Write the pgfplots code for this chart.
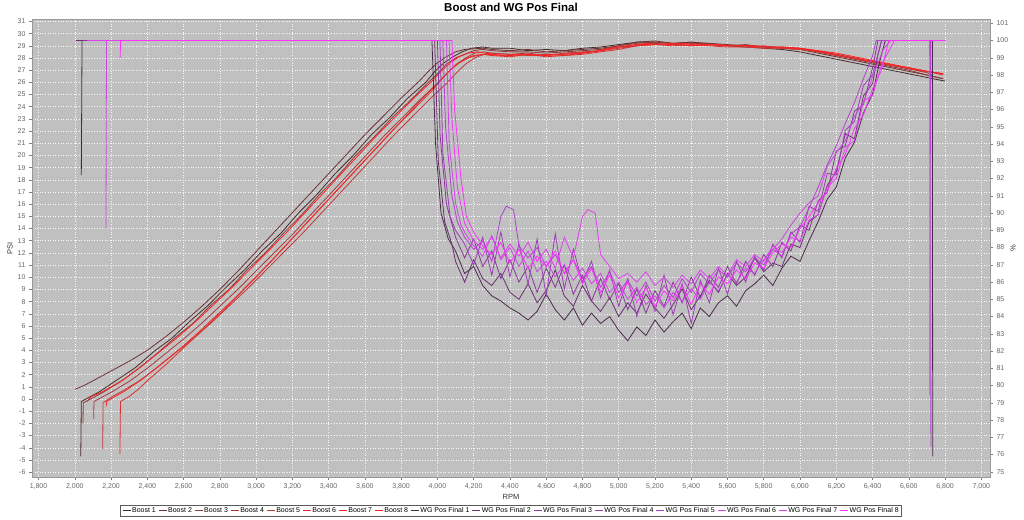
\documentclass[border=0pt]{standalone}
\usepackage{fontspec}
\setmainfont{Liberation Sans}
\usepackage{pgfplots}
\pgfplotsset{compat=1.18}

\definecolor{bggray}{HTML}{C0C0C0}
\definecolor{tickgray}{HTML}{666666}
\definecolor{b1}{HTML}{4A2A2A}
\definecolor{b2}{HTML}{6E3232}
\definecolor{b3}{HTML}{8C3A3A}
\definecolor{b4}{HTML}{A83A3A}
\definecolor{b5}{HTML}{C43838}
\definecolor{b6}{HTML}{DC3030}
\definecolor{b7}{HTML}{EE2A2A}
\definecolor{b8}{HTML}{FF2020}
\definecolor{w1}{HTML}{4A2A4A}
\definecolor{w2}{HTML}{6A3070}
\definecolor{w3}{HTML}{883898}
\definecolor{w4}{HTML}{9E3CB8}
\definecolor{w5}{HTML}{B440D0}
\definecolor{w6}{HTML}{C848E0}
\definecolor{w7}{HTML}{E040F0}
\definecolor{w8}{HTML}{FF30FF}

\pgfplotsset{
  common/.style={
    scale only axis, width=958pt, height=458pt,
    at={(32pt,42pt)}, anchor=south west,
    xmin=1764, xmax=7048,
    tick label style={font=\fontsize{7}{8}\selectfont, text=tickgray},
    /pgf/number format/assume math mode=true,
    tick align=outside, major tick length=3pt,
    tick style={gray, line width=0.5pt},
    axis line style={gray!80},
    every axis plot/.append style={line width=0.8pt, mark=none},
    legend image code/.code={\draw[##1] (0pt,0pt) -- (8pt,0pt);},
  },
}

\begin{document}
\begin{tikzpicture}[x=1pt,y=1pt]
\useasboundingbox (0,0) rectangle (1024,519);

% ---------- boost (left axis)
\begin{axis}[common,
  ymin=-6.4, ymax=31.2, ytick={-6,-5,...,31},
  xtick={1800,2000,...,7000}, scaled x ticks=false,
  xticklabel style={/pgf/number format/1000 sep={,}},
  ytick pos=left, xtick pos=bottom,
  axis background/.style={fill=bggray},
  grid=major, grid style={white!90!bggray, dash pattern=on 0.8pt off 1.8pt, line width=0.5pt},
  xlabel={RPM}, ylabel={PSI},
  label style={font=\fontsize{7.5}{9}\selectfont, text=black!80},
  ylabel style={at={(axis description cs:-0.023,0.5)}, anchor=center},
  xlabel style={at={(axis description cs:0.5,-0.0437)}, anchor=center},
  title={Boost and WG Pos Final},
  every axis title shift=0pt,
  title style={font=\bfseries\fontsize{11.5}{13}\selectfont, at={(axis description cs:0.5,1.0251)}, anchor=center, yshift=0pt},
]
\addplot[color=b1] coordinates {(2033,-4.7)(2036,-0.2)(2086,0.2)(2136,0.6)(2236,1.6)(2336,2.6)(2436,3.9)(2536,5.0)(2636,6.4)(2736,7.7)(2836,9.2)(2936,10.6)(3036,12.2)(3136,13.6)(3236,15.3)(3336,16.8)(3436,18.5)(3536,20.0)(3636,21.7)(3736,23.1)(3836,24.7)(3936,26.0)(3986,26.9)(4036,27.6)(4086,28.1)(4136,28.5)(4186,28.8)(4250,28.9)(4300,28.8)(4400,28.8)(4500,28.6)(4600,28.7)(4700,28.6)(4800,28.8)(4900,28.9)(5000,29.1)(5100,29.3)(5200,29.3)(5300,29.2)(5400,29.3)(5500,29.1)(5600,29.0)(5700,28.9)(5800,28.8)(5900,28.7)(6000,28.5)(6100,28.2)(6200,27.9)(6300,27.6)(6400,27.3)(6500,27.0)(6600,26.7)(6700,26.4)(6800,26.1)};
\addplot[color=b2] coordinates {(2000,0.8)(2050,1.1)(2100,1.5)(2200,2.3)(2300,3.1)(2400,4.0)(2500,5.1)(2600,6.3)(2700,7.6)(2800,9.0)(2900,10.5)(3000,12.1)(3100,13.7)(3200,15.3)(3300,16.9)(3400,18.5)(3500,20.1)(3600,21.7)(3700,23.2)(3800,24.7)(3900,26.1)(3950,26.9)(4000,27.6)(4050,28.1)(4100,28.5)(4150,28.7)(4250,28.8)(4300,28.7)(4400,28.6)(4500,28.7)(4600,28.5)(4700,28.6)(4800,28.7)(4900,28.8)(5000,29.0)(5100,29.3)(5200,29.4)(5300,29.2)(5400,29.3)(5500,29.2)(5600,29.1)(5700,29.0)(5800,28.9)(5900,28.8)(6000,28.7)(6100,28.4)(6200,28.1)(6300,27.8)(6400,27.5)(6500,27.2)(6600,26.9)(6700,26.6)(6790,26.3)};
\addplot[color=b3] coordinates {(2045,-2.0)(2047,-0.3)(2100,0.1)(2150,0.5)(2250,1.4)(2350,2.5)(2450,3.7)(2550,5.0)(2650,6.2)(2750,7.7)(2850,9.0)(2950,10.6)(3050,12.0)(3150,13.6)(3250,15.1)(3350,16.8)(3450,18.3)(3550,20.0)(3650,21.5)(3750,23.1)(3850,24.5)(3950,26.0)(4000,26.7)(4050,27.5)(4100,28.0)(4150,28.3)(4200,28.6)(4250,28.7)(4300,28.6)(4400,28.5)(4500,28.5)(4600,28.4)(4700,28.5)(4800,28.6)(4900,28.7)(5000,29.0)(5100,29.2)(5200,29.3)(5300,29.2)(5400,29.2)(5500,29.2)(5600,29.0)(5700,29.1)(5800,28.9)(5900,28.9)(6000,28.8)(6100,28.5)(6200,28.2)(6300,27.9)(6400,27.6)(6500,27.3)(6600,27.0)(6700,26.6)(6790,26.3)};
\addplot[color=b4] coordinates {(2104,-1.6)(2106,-0.2)(2156,0.2)(2206,0.6)(2306,1.5)(2406,2.6)(2506,3.8)(2606,5.0)(2706,6.3)(2806,7.7)(2906,9.1)(3006,10.6)(3106,12.1)(3206,13.6)(3306,15.2)(3406,16.8)(3506,18.4)(3606,20.0)(3706,21.6)(3806,23.1)(3906,24.6)(4006,26.0)(4056,26.8)(4106,27.5)(4156,28.0)(4206,28.4)(4256,28.5)(4300,28.4)(4400,28.3)(4500,28.4)(4600,28.2)(4700,28.4)(4800,28.5)(4900,28.6)(5000,28.9)(5100,29.0)(5200,29.2)(5300,29.1)(5400,29.2)(5500,29.1)(5600,29.0)(5700,29.0)(5800,28.9)(5900,28.8)(6000,28.8)(6100,28.5)(6200,28.3)(6300,28.0)(6400,27.7)(6500,27.4)(6600,27.1)(6700,26.8)(6730,26.6)(6732,24.8)};
\addplot[color=b5] coordinates {(2154,-4.1)(2156,-0.3)(2206,0.2)(2256,0.6)(2356,1.5)(2456,2.6)(2556,3.8)(2656,5.0)(2756,6.3)(2856,7.7)(2956,9.1)(3056,10.6)(3156,12.1)(3256,13.6)(3356,15.2)(3456,16.8)(3556,18.4)(3656,20.0)(3756,21.6)(3856,23.1)(3956,24.6)(4056,26.0)(4106,26.8)(4156,27.5)(4206,28.0)(4256,28.3)(4306,28.4)(4400,28.3)(4500,28.2)(4600,28.3)(4700,28.2)(4800,28.4)(4900,28.6)(5000,28.8)(5100,29.0)(5200,29.1)(5300,29.1)(5400,29.0)(5500,29.1)(5600,29.0)(5700,28.9)(5800,29.0)(5900,28.8)(6000,28.7)(6100,28.6)(6200,28.3)(6300,28.0)(6400,27.7)(6500,27.4)(6600,27.2)(6700,26.9)(6790,26.7)};
\addplot[color=b6] coordinates {(2249,-4.5)(2252,-0.2)(2300,0.2)(2350,0.8)(2400,1.5)(2500,2.8)(2600,4.2)(2700,5.6)(2800,7.0)(2900,8.5)(3000,10.0)(3100,11.6)(3200,13.2)(3300,14.8)(3400,16.4)(3500,18.0)(3600,19.6)(3700,21.2)(3800,22.8)(3900,24.4)(4000,25.9)(4050,26.7)(4100,27.4)(4150,27.9)(4200,28.2)(4250,28.3)(4300,28.2)(4400,28.1)(4500,28.3)(4600,28.1)(4700,28.2)(4800,28.3)(4900,28.5)(5000,28.7)(5100,29.0)(5200,29.1)(5300,29.0)(5400,29.1)(5500,29.0)(5600,28.9)(5700,28.9)(5800,28.8)(5900,28.8)(6000,28.7)(6100,28.5)(6200,28.2)(6300,28.0)(6400,27.7)(6500,27.4)(6600,27.2)(6700,26.9)(6790,26.6)};
\addplot[color=b7] coordinates {(2173,-0.6)(2176,-0.2)(2220,0.2)(2270,0.6)(2370,1.6)(2470,2.8)(2570,4.0)(2670,5.3)(2770,6.7)(2870,8.1)(2970,9.6)(3070,11.1)(3170,12.7)(3270,14.3)(3370,15.9)(3470,17.5)(3570,19.1)(3670,20.7)(3770,22.3)(3870,23.8)(3970,25.3)(4020,26.2)(4070,27.0)(4120,27.6)(4170,28.0)(4220,28.2)(4270,28.3)(4350,28.2)(4450,28.3)(4550,28.2)(4650,28.3)(4750,28.4)(4850,28.5)(4950,28.8)(5050,29.0)(5150,29.2)(5250,29.1)(5350,29.2)(5450,29.1)(5550,29.1)(5650,29.0)(5750,29.0)(5850,28.9)(5950,28.8)(6050,28.7)(6150,28.4)(6250,28.1)(6350,27.8)(6450,27.6)(6550,27.3)(6650,27.0)(6750,26.8)(6790,26.7)};
\addplot[color=b8] coordinates {(2068,-0.2)(2090,0.2)(2140,0.5)(2200,1.0)(2270,1.6)(2370,2.7)(2470,3.9)(2570,5.1)(2670,6.4)(2770,7.8)(2870,9.2)(2970,10.7)(3070,12.2)(3170,13.7)(3270,15.3)(3370,16.9)(3470,18.5)(3570,20.1)(3670,21.7)(3770,23.2)(3870,24.7)(3970,26.1)(4020,26.9)(4070,27.6)(4120,28.1)(4170,28.4)(4220,28.5)(4300,28.3)(4400,28.2)(4500,28.3)(4600,28.2)(4700,28.3)(4800,28.4)(4900,28.6)(5000,28.9)(5100,29.1)(5200,29.1)(5300,29.2)(5400,29.0)(5500,29.1)(5600,29.0)(5700,29.0)(5800,28.9)(5900,28.9)(6000,28.8)(6100,28.6)(6200,28.4)(6300,28.1)(6400,27.8)(6500,27.5)(6600,27.2)(6700,26.9)(6790,26.7)};
\end{axis}

% ---------- wastegate position (right axis)
\begin{axis}[common,
  ymin=74.7, ymax=101.25, ytick={75,76,...,101},
  axis y line*=right, axis x line=none,
  ylabel={\%},
  ylabel style={font=\fontsize{7.5}{9}\selectfont, text=black!80, at={(axis description cs:1.024,0.5)}, anchor=center},
  legend style={at={(0.5,-0.061)}, anchor=north, draw=gray!70!black, fill=white,
    font=\fontsize{7}{8}\selectfont, legend columns=16, inner xsep=2pt, inner ysep=1pt,
    column sep=0pt, nodes={inner xsep=1pt, inner ysep=1pt},
    /tikz/every even column/.append style={column sep=1.5pt}},
]
\addlegendimage{color=b1, line width=0.8pt}\addlegendentry{Boost 1}
\addlegendimage{color=b2, line width=0.8pt}\addlegendentry{Boost 2}
\addlegendimage{color=b3, line width=0.8pt}\addlegendentry{Boost 3}
\addlegendimage{color=b4, line width=0.8pt}\addlegendentry{Boost 4}
\addlegendimage{color=b5, line width=0.8pt}\addlegendentry{Boost 5}
\addlegendimage{color=b6, line width=0.8pt}\addlegendentry{Boost 6}
\addlegendimage{color=b7, line width=0.8pt}\addlegendentry{Boost 7}
\addlegendimage{color=b8, line width=0.8pt}\addlegendentry{Boost 8}
\addplot[color=w1] coordinates {(2036,92.2)(2040,100)(3970,100)(3990,94)(4020,90)(4060,88.5)(4100,87.8)(4150,86.5)(4200,86.9)(4250,85.8)(4300,85.2)(4350,84.9)(4400,84.5)(4450,84.2)(4500,83.8)(4550,84.3)(4600,85.3)(4650,84.4)(4700,83.8)(4750,84.5)(4800,83.5)(4850,84.2)(4900,83.6)(4950,84.0)(5000,83.2)(5050,82.6)(5100,83.4)(5150,82.9)(5200,83.8)(5250,83.1)(5300,83.7)(5350,84.2)(5400,83.3)(5450,84.5)(5500,84.0)(5550,84.8)(5600,85.2)(5650,84.6)(5700,85.5)(5750,85.9)(5800,86.4)(5850,85.8)(5900,86.8)(5950,87.5)(6000,87.2)(6050,88.4)(6100,89.5)(6150,90.8)(6200,91.5)(6250,93.2)(6300,94.1)(6350,95.8)(6400,96.9)(6440,98.8)(6470,100)(6730,100)(6732,75.9)};
\addlegendentry{WG Pos Final 1}
\addplot[color=w2] coordinates {(2007,100)(3985,100)(4005,93)(4040,89.5)(4080,88.2)(4100,87.2)(4150,86.0)(4200,87.3)(4250,86.2)(4300,85.8)(4350,86.5)(4400,85.4)(4450,85.0)(4500,85.9)(4550,84.8)(4600,85.5)(4650,86.7)(4700,85.2)(4750,84.6)(4800,85.8)(4850,84.9)(4900,84.3)(4950,85.1)(5000,84.0)(5050,84.8)(5100,84.2)(5150,85.3)(5200,84.5)(5250,83.9)(5300,84.7)(5350,85.6)(5400,84.4)(5450,85.2)(5500,86.1)(5550,85.4)(5600,86.5)(5650,85.8)(5700,86.3)(5750,87.4)(5800,86.6)(5850,87.1)(5900,86.9)(5950,88.2)(6000,88.0)(6050,89.5)(6100,89.9)(6150,91.6)(6200,92.4)(6250,94.6)(6300,94.3)(6350,96.8)(6400,97.5)(6430,99.2)(6450,100)(6800,100)};
\addlegendentry{WG Pos Final 2}
\addplot[color=w3] coordinates {(2045,100)(4000,100)(4015,94.5)(4050,90.5)(4090,89.0)(4100,88.6)(4150,87.4)(4200,88.5)(4250,86.9)(4300,87.8)(4350,86.2)(4400,87.3)(4450,86.0)(4500,86.9)(4550,85.4)(4600,86.8)(4650,85.7)(4700,87.0)(4750,85.3)(4800,86.4)(4850,84.9)(4900,86.2)(4950,85.0)(5000,85.9)(5050,84.4)(5100,85.6)(5150,84.2)(5200,85.5)(5250,84.6)(5300,86.0)(5350,84.8)(5400,86.3)(5450,85.1)(5500,86.4)(5550,85.7)(5600,86.9)(5650,85.9)(5700,87.2)(5750,86.4)(5800,87.6)(5850,86.9)(5900,88.3)(5950,87.8)(6000,89.3)(6050,89.0)(6100,90.7)(6150,91.2)(6200,93.6)(6250,93.9)(6300,95.9)(6350,96.3)(6400,98.4)(6430,100)(6790,100)};
\addlegendentry{WG Pos Final 3}
\addplot[color=w4] coordinates {(2106,100)(4014,100)(4030,93.5)(4070,89.8)(4100,89.0)(4150,88.2)(4200,87.0)(4250,88.6)(4300,86.4)(4350,88.9)(4400,86.3)(4450,88.2)(4500,85.9)(4550,88.5)(4600,85.2)(4650,88.8)(4700,85.6)(4750,87.9)(4800,86.0)(4850,87.2)(4900,85.1)(4950,86.7)(5000,84.6)(5050,86.2)(5100,84.0)(5150,85.8)(5200,84.3)(5250,86.4)(5300,84.1)(5350,85.9)(5400,83.6)(5450,86.1)(5500,84.8)(5550,86.8)(5600,85.3)(5650,87.2)(5700,86.0)(5750,87.5)(5800,86.7)(5850,88.2)(5900,87.4)(5950,88.9)(6000,88.3)(6050,90.4)(6100,90.1)(6150,92.3)(6200,92.2)(6250,94.8)(6300,95.3)(6350,97.4)(6400,98.0)(6450,100)(6800,100)};
\addlegendentry{WG Pos Final 4}
\addplot[color=w5] coordinates {(2156,100)(4030,100)(4045,95)(4080,91.0)(4110,89.5)(4150,88.6)(4200,87.9)(4250,88.4)(4300,87.2)(4350,89.8)(4380,90.4)(4420,90.2)(4450,88.1)(4500,87.4)(4550,88.0)(4600,86.9)(4650,87.6)(4700,86.5)(4750,87.3)(4800,86.2)(4850,86.9)(4900,85.7)(4950,86.6)(5000,85.4)(5050,86.1)(5100,85.2)(5150,86.0)(5200,84.9)(5250,85.8)(5300,85.1)(5350,86.2)(5400,85.4)(5450,86.5)(5500,85.9)(5550,86.7)(5600,86.3)(5650,87.1)(5700,86.6)(5750,87.4)(5800,87.0)(5850,87.9)(5900,87.5)(5950,88.8)(6000,89.2)(6050,90.3)(6100,91.5)(6150,92.8)(6200,93.9)(6250,95.2)(6300,96.4)(6350,97.8)(6400,99.1)(6420,100)(6720,100)(6722,76.45)};
\addlegendentry{WG Pos Final 5}
\addplot[color=w6] coordinates {(2172,89.1)(2175,100)(4050,100)(4065,94)(4100,90.6)(4130,89.3)(4150,88.9)(4200,88.1)(4250,87.5)(4300,88.7)(4350,87.3)(4400,88.0)(4450,86.9)(4500,87.8)(4550,86.6)(4600,87.2)(4650,86.3)(4700,87.0)(4750,86.1)(4800,86.8)(4850,85.9)(4900,86.5)(4950,85.4)(5000,86.0)(5050,85.0)(5100,85.7)(5150,84.7)(5200,85.2)(5250,84.5)(5300,85.4)(5350,84.9)(5400,85.6)(5450,85.0)(5500,86.0)(5550,85.5)(5600,86.4)(5650,86.0)(5700,86.8)(5750,86.5)(5800,87.3)(5850,87.9)(5900,88.5)(5950,89.3)(6000,90.0)(6050,90.6)(6100,91.0)(6150,92.7)(6200,93.5)(6250,94.2)(6300,95.6)(6350,96.4)(6400,97.9)(6460,99.5)(6500,100)(6790,100)};
\addlegendentry{WG Pos Final 6}
\addplot[color=w7] coordinates {(2070,100)(4064,100)(4080,95.5)(4110,91.5)(4150,89.4)(4200,88.4)(4250,87.9)(4300,88.6)(4350,87.4)(4400,88.2)(4450,87.5)(4500,88.3)(4550,87.2)(4600,87.9)(4650,86.8)(4700,88.6)(4750,87.4)(4800,89.8)(4830,90.2)(4870,90.0)(4900,87.6)(4950,86.9)(5000,86.2)(5050,86.5)(5100,86.0)(5150,86.6)(5200,85.8)(5250,86.3)(5300,85.7)(5350,86.4)(5400,85.9)(5450,86.7)(5500,86.2)(5550,86.9)(5600,86.4)(5650,87.3)(5700,86.9)(5750,87.6)(5800,87.2)(5850,88.1)(5900,87.7)(5950,88.6)(6000,88.4)(6050,89.6)(6100,89.9)(6150,91.5)(6200,92.0)(6250,93.8)(6300,94.2)(6350,96.5)(6400,96.8)(6450,98.6)(6520,100)(6715,100)(6716,79.45)};
\addlegendentry{WG Pos Final 7}
\addplot[color=w8] coordinates {(2250,99.0)(2253,100)(4080,100)(4095,96)(4130,92)(4160,89.8)(4200,88.9)(4250,88.1)(4300,87.6)(4350,88.3)(4400,87.1)(4450,87.9)(4500,86.8)(4550,87.5)(4600,86.9)(4650,87.8)(4700,86.5)(4750,87.3)(4800,85.9)(4850,86.8)(4900,85.4)(4950,86.4)(5000,85.1)(5050,86.0)(5100,84.8)(5150,85.7)(5200,84.6)(5250,85.5)(5300,84.9)(5350,85.8)(5400,84.7)(5450,85.9)(5500,85.3)(5550,86.3)(5600,85.9)(5650,86.7)(5700,86.2)(5750,87.1)(5800,86.8)(5850,87.7)(5900,88.2)(5950,88.0)(6000,89.1)(6050,89.8)(6100,90.6)(6150,91.2)(6200,92.6)(6250,93.4)(6300,94.9)(6350,95.7)(6400,97.2)(6450,98.3)(6490,100)(6800,100)};
\addlegendentry{WG Pos Final 8}
\end{axis}
\end{tikzpicture}
\end{document}
